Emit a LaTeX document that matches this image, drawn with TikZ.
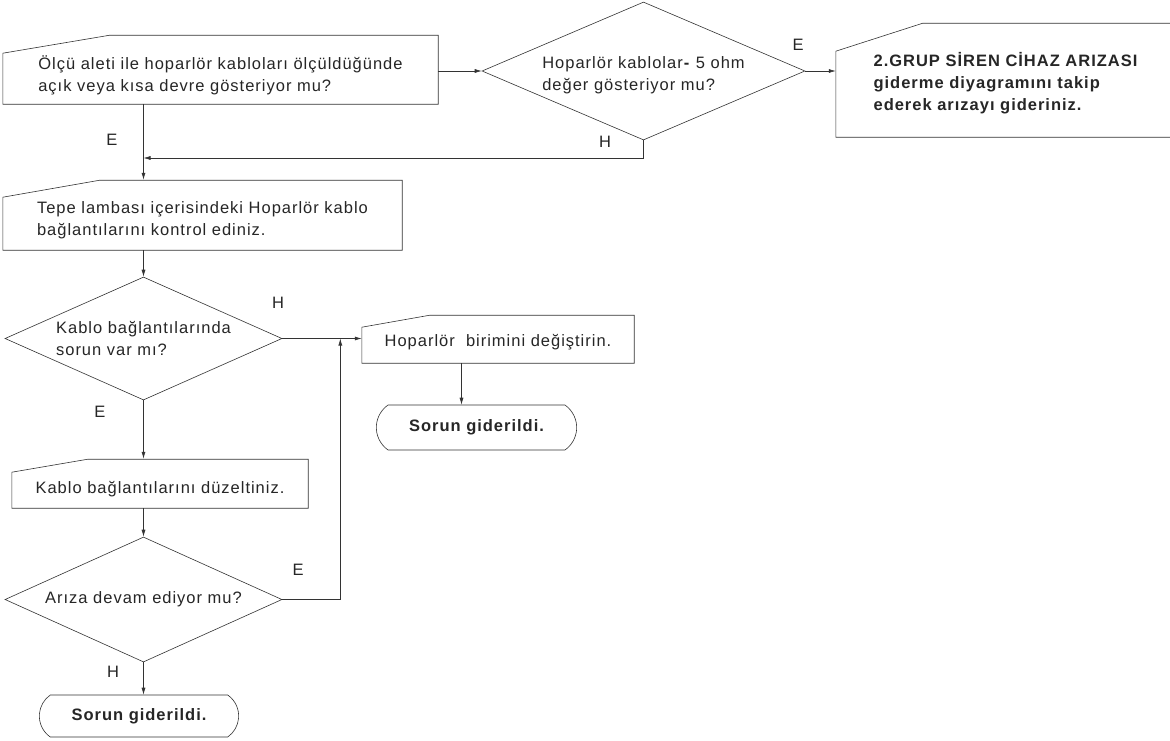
\documentclass[tikz,border=0pt]{standalone}
\usepackage{fontspec}
\setmainfont{Liberation Sans}[LetterSpace=6]
\usepackage{tikz}
\usetikzlibrary{positioning, arrows.meta, shapes.geometric, shapes.misc, calc}

\begin{document}
\begin{tikzpicture}[
    x=1pt, y=-1pt,
    >={Latex[length=7pt,width=4pt]},
    line/.style={draw=black!80, line width=0.6pt},
    arr/.style={line, ->},
    txt/.style={font=\fontsize{16.5}{22}\selectfont, text=black!85},
    manual/.style={txt, draw=none, align=left, inner sep=0pt},
    decision/.style={txt, diamond, line, align=left, inner sep=0pt, aspect=2.1},
    terminal/.style={txt, rounded rectangle, rounded rectangle arc length=110, line, font=\fontsize{16.5}{22}\selectfont\bfseries},
    yesno/.style={txt, inner sep=1pt},
]
\fill[white] (0,0) rectangle (1170,740);
\useasboundingbox (0,0) rectangle (1170,740);

% === TOP ROW: measurement check ===
\node[manual, minimum width=435, minimum height=69, text height=50pt, text depth=7pt] (meas) at (220.5,69.5)
    {Ölçü aleti ile hoparlör kabloları ölçüldüğünde\\açık veya kısa devre gösteriyor mu?};
\node[decision, minimum width=323, minimum height=138, aspect=2.4, text height=38pt, text depth=0pt] (ohm) at (643.5,71)
    {Hoparlör kablolar\textbf{-} 5 ohm\\değer gösteriyor mu?};
\node[manual, minimum width=339, minimum height=114, text height=64pt, text depth=4pt,
      font=\fontsize{16.5}{22}\selectfont\bfseries] (siren) at (1005.5,80)
    {2.GRUP SİREN CİHAZ ARIZASI\\giderme diyagramını takip\\ederek arızayı gideriniz.};

% === LEFT COLUMN ===
\node[manual, minimum width=399, minimum height=70, text height=46pt, text depth=6pt] (lamp) at (202.5,215)
    {Tepe lambası içerisindeki Hoparlör kablo\\bağlantılarını kontrol ediniz.};
\node[decision, minimum width=277, minimum height=123] (conn) at (143.5,338.5)
    {Kablo bağlantılarında\\sorun var mı?};
\node[manual, minimum width=296, minimum height=49, text height=22pt, text depth=3pt] (fixc) at (160,483.5)
    {Kablo bağlantılarını düzeltiniz.};
\node[decision, minimum width=277, minimum height=125] (persist) at (143.5,599.5)
    {Arıza devam ediyor mu?};
\node[terminal, minimum width=206, minimum height=42] (done2) at (139,716) {Sorun giderildi.};

% === MIDDLE: replace unit ===
\node[manual, minimum width=272, minimum height=48, text height=20pt, text depth=6pt] (unit) at (498,339)
    {Hoparlör~ birimini değiştirin.};
\node[terminal, minimum width=207, minimum height=45] (done1) at (476.5,427.5) {Sorun giderildi.};

% --- manual input outlines ---
\foreach \n/\hl/\hr/\run in {meas/51/69/107, lamp/53/70/97, siren/86/114/87, unit/36/48/68, fixc/36/49/76}
    \draw[line] (\n.south west) -- ++(0,-\hl) -- ($(\n.south west)+(\run,-\hr)$)
        -- ($(\n.south east)+(0,-\hr)$) -- (\n.south east) -- cycle;

% --- connectors ---
\coordinate (join1) at (143.5,158);
\path (conn.east) ++(58,0) coordinate (join2);
\coordinate (t1in) at ([xshift=-15pt]done1.north);

\draw[arr] (meas.east |- ohm.west) -- (ohm.west);
\draw[arr] (ohm.east) -- (ohm.east -| siren.west);
\draw[arr] (meas.south -| conn.north) -- (lamp.north -| conn.north);
\draw[arr] (ohm.south) |- (join1);
\draw[arr] (lamp.south -| conn.north) -- (conn.north);
\draw[arr] (conn.east) -- (conn.east -| unit.west);
\draw[arr] (conn.south) -- (conn.south |- fixc.north);
\draw[arr] (fixc.south -| persist.north) -- (persist.north);
\draw[arr] (persist.east) -| (join2);
\draw[arr] (persist.south) -- (persist.south |- done2.north);
\draw[arr] (t1in |- unit.south) -- (t1in);

% --- answer labels ---
\node[yesno] (lblE1) at (112,140) {E};
\node[yesno] (lblE2) at (798,45) {E};
\node[yesno] (lblH1) at (605,142) {H};
\node[yesno] (lblH2) at (278,303) {H};
\node[yesno] (lblE3) at (100,412) {E};
\node[yesno] (lblE4) at (298,570) {E};
\node[yesno] (lblH3) at (113,672) {H};

\end{tikzpicture}
\end{document}
